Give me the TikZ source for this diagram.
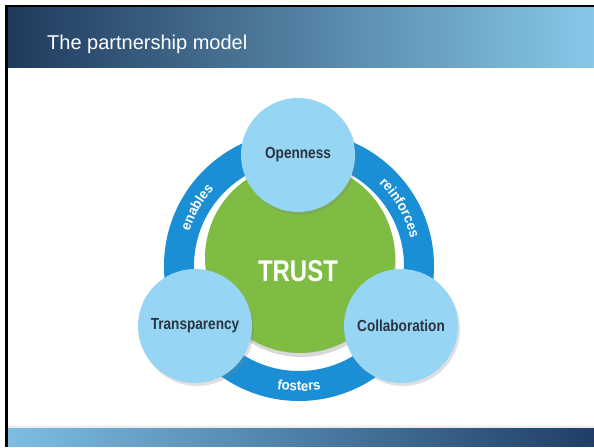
\documentclass[tikz,border=0pt]{standalone}
\usepackage{fontspec}
\setmainfont{Liberation Sans}
\newfontfamily\narrowsans[FakeStretch=0.85]{Liberation Sans}
\newfontfamily\trustsans[FakeStretch=0.8]{Liberation Sans}
\newfontfamily\ringsans[FakeStretch=0.95]{Liberation Sans}
\usetikzlibrary{shadows,decorations.text}
\definecolor{hdrdark}{RGB}{31,58,93}
\definecolor{hdrlight}{RGB}{135,200,232}
\definecolor{barlight}{RGB}{125,190,225}
\definecolor{bardark}{RGB}{32,62,102}
\definecolor{ringblue}{RGB}{27,143,214}
\definecolor{bubbleblue}{RGB}{150,213,243}
\definecolor{bubbletext}{RGB}{42,52,66}
\definecolor{trustgreen}{RGB}{126,188,68}
\newcommand{\ringfont}{\ringsans\bfseries\fontsize{14}{16}\selectfont}

\begin{document}
\begin{tikzpicture}[x=1pt,y=1pt,
  bubble/.style={circle,fill=bubbleblue,minimum size=114pt,inner sep=0pt,
    text=bubbletext,font=\narrowsans\bfseries\fontsize{16}{18}\selectfont,
    drop shadow={shadow xshift=2pt,shadow yshift=-3pt,opacity=0.25}},
  ringtext/.style={decorate,decoration={text along path,text align=center,
    text color=white,text={|\ringfont|#1}}}]
\useasboundingbox (0,0) rectangle (594,447);
\fill[white] (0,0) rectangle (594,447);
% header and footer bars
\shade[left color=hdrdark,right color=hdrlight] (8,379) rectangle (594,440);
\shade[top color=white,bottom color=black!12] (8,19) rectangle (594,23);
\shade[left color=barlight,right color=bardark] (8,1) rectangle (594,19);
\fill[black] (5,0) rectangle (8,442);
\fill[black] (5,440) rectangle (594,442);
\node[anchor=base west,text=white,font=\fontsize{20}{24}\selectfont,inner sep=0pt]
  (title) at (47,397) {The partnership model};

\node[circle,draw=ringblue,line width=30pt,minimum size=240pt,inner sep=0pt,
  fill=white] (ring) at (299,181) {};
\node[circle,fill=trustgreen,minimum size=190pt,inner sep=0pt,
  drop shadow={shadow xshift=1pt,shadow yshift=-4pt,opacity=0.3}] (trust) at (300,189) {};
\node[text=white,font=\trustsans\bfseries\fontsize{30}{32}\selectfont] (trusttext) at (298,176) {TRUST};

\node[bubble] (openness) at (298,292) {Openness};
\node[bubble] (transparency) at (195,121) {Transparency};
\node[bubble] (collaboration) at (401,121) {Collaboration};

\path[ringtext=enables] ([shift={(178:115)}]ring.center) arc[start angle=178,end angle=122,radius=115];
\path[ringtext=reinforces] ([shift={(70:115)}]ring.center) arc[start angle=70,end angle=-10,radius=115];
\path[ringtext=fosters] ([shift={(246:125)}]ring.center) arc[start angle=246,end angle=294,radius=125];
\end{tikzpicture}
\end{document}
